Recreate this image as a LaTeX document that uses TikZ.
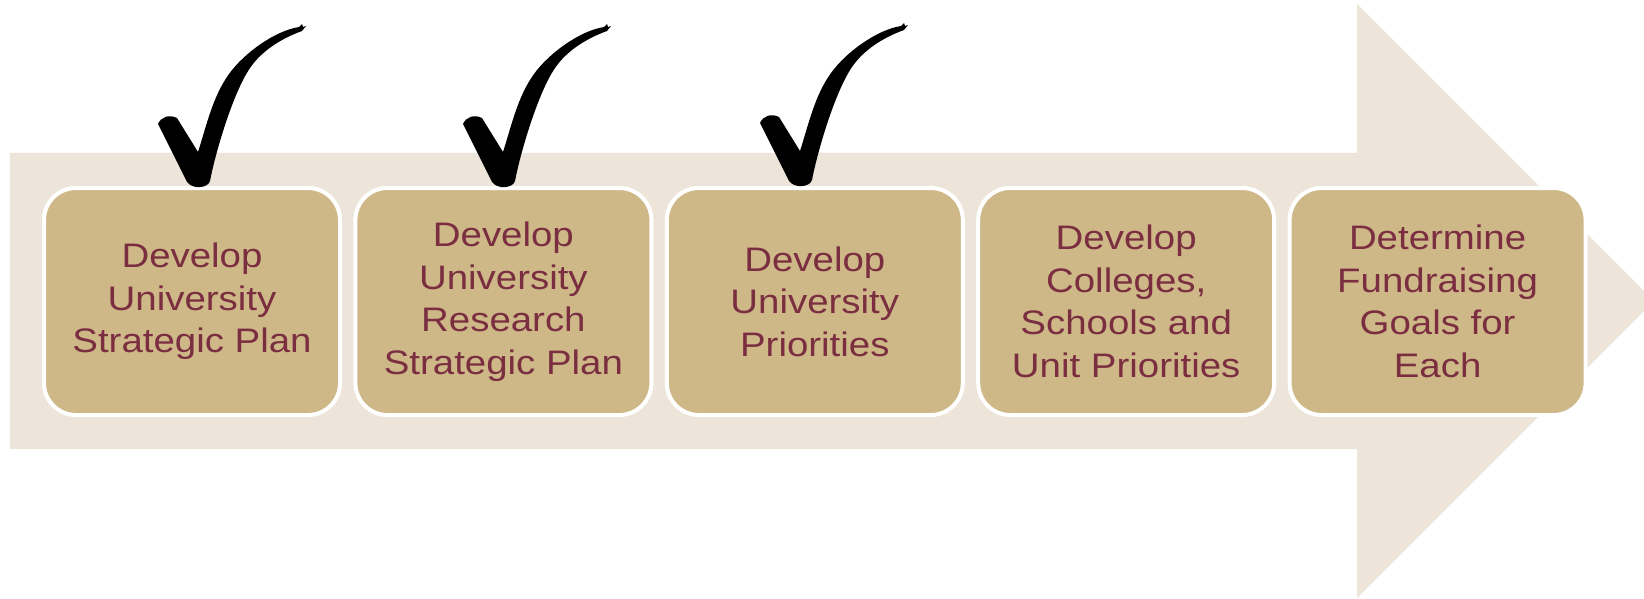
\documentclass[tikz,border=0pt]{standalone}
\usepackage{fontspec}
\setmainfont{Liberation Sans}[FakeStretch=1.13]
\definecolor{garnet}{HTML}{7A2E40}
\definecolor{gold}{HTML}{CEB888}
\definecolor{sand}{HTML}{EDE5D9}
\begin{document}
\begin{tikzpicture}[x=1pt,y=-1pt,
  stepbox/.style={rectangle, rounded corners=32pt, fill=gold, draw=white,
    line width=4pt, minimum width=296pt, minimum height=227pt, inner sep=0pt,
    align=center, text=garnet, font=\fontsize{34}{42.5}\selectfont},
  tick/.pic={
    % brush-stroke check mark, anchored at its lowest point
    \fill[black] (-41,-63) .. controls (-38,-70) and (-30,-73) .. (-22,-69)
      -- (-1,-35)
      .. controls (7.6,-61.6) and (13.6,-90.3) .. (30,-113)
      .. controls (44.6,-133.3) and (75.3,-156.1) .. (100,-160)
      -- (103,-163) -- (104,-160) -- (107,-161) -- (103,-156)
      .. controls (81,-148) and (62.3,-135.5) .. (51,-119)
      .. controls (34.1,-94.2) and (16.7,-35.5) .. (11,-6)
      .. controls (9,1) and (-6,3) .. (-12,-5)
      -- cycle;
  }]
\useasboundingbox (0,0) rectangle (1644,599);
\clip (0,0) rectangle (1644,599);
\fill[white] (0,0) rectangle (1644,599);

% process arrow in the background
\fill[sand] (10,153) -- (1357,153) -- (1357,4) -- (1654,301)
  -- (1357,598) -- (1357,449) -- (10,449) -- cycle;

% steps
\node[stepbox] (s1) at (192,301.5) {Develop\\University\\Strategic Plan};
\node[stepbox] (s2) at (503.4,301.5) {Develop\\University\\Research\\Strategic Plan};
\node[stepbox] (s3) at (814.8,301.5) {Develop\\University\\Priorities};
\node[stepbox] (s4) at (1126.2,301.5) {Develop\\Colleges,\\Schools and\\Unit Priorities};
\node[stepbox] (s5) at (1437.6,301.5) {Determine\\Fundraising\\Goals for\\Each};

% completed steps
\pic at (199,187) {tick};
\pic at (504,187) {tick};
\pic at (801,186) {tick};
\end{tikzpicture}
\end{document}
